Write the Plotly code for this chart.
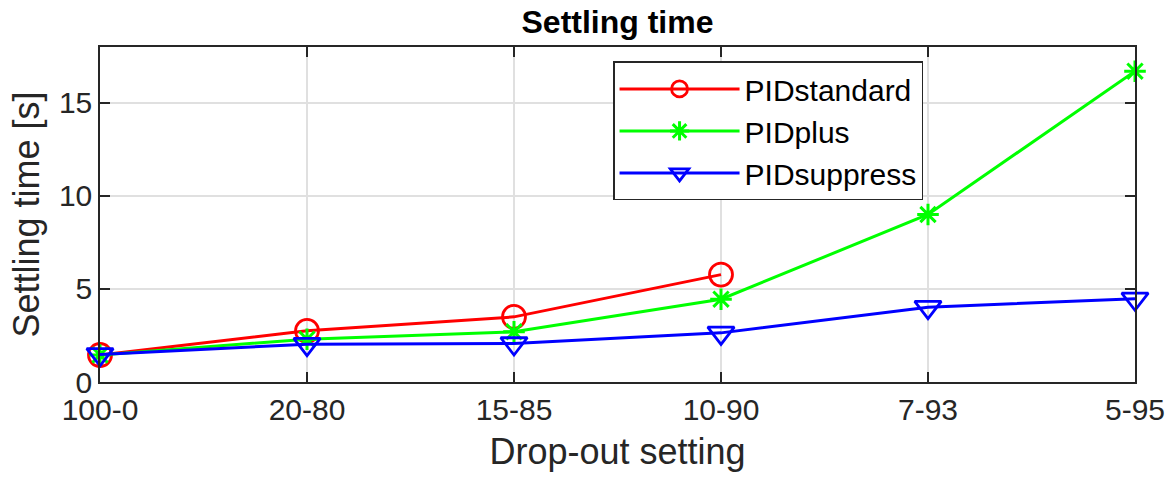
import plotly.graph_objects as go

settings = ["100-0", "20-80", "15-85", "10-90", "7-93", "5-95"]
pid_standard = [1.45, 2.75, 3.5, 5.77]
pid_plus = [1.45, 2.3, 2.7, 4.45, 9.0, 16.7]
pid_suppress = [1.48, 2.03, 2.07, 2.64, 4.02, 4.47]

FONT = "Liberation Sans, Arial, sans-serif"
AX = "#262626"

fig = go.Figure()
fig.add_trace(go.Scatter(x=settings[:len(pid_standard)], y=pid_standard, name="PIDstandard",
                         mode="lines+markers", cliponaxis=False,
                         line=dict(color="#ff0000", width=3),
                         marker=dict(symbol="circle-open", size=23, color="#ff0000",
                                     line=dict(width=2.8, color="#ff0000"))))
fig.add_trace(go.Scatter(x=settings, y=pid_plus, name="PIDplus",
                         mode="lines+markers", cliponaxis=False,
                         line=dict(color="#00ff00", width=3),
                         marker=dict(symbol="asterisk-open", size=18, color="#00ff00",
                                     line=dict(width=3, color="#00ff00"))))
fig.add_trace(go.Scatter(x=settings, y=pid_suppress, name="PIDsuppress",
                         mode="lines+markers", cliponaxis=False,
                         line=dict(color="#0000ff", width=3),
                         marker=dict(symbol="triangle-down-open", size=23, color="#0000ff",
                                     line=dict(width=2.8, color="#0000ff"))))

fig.update_layout(
    width=1168, height=482,
    margin=dict(l=100, r=33, t=47, b=100, autoexpand=False),
    paper_bgcolor="white", plot_bgcolor="white",
    font=dict(family=FONT, color=AX, size=30),
    title=dict(text="<b>Settling time</b>", x=0.5, xref="paper", xanchor="center",
               y=0.955, yref="container", yanchor="middle",
               font=dict(size=32, color="#000000")),
    showlegend=True,
    legend=dict(x=0.4957, xanchor="left", y=0.957, yanchor="top",
                bordercolor=AX, borderwidth=1.5, bgcolor="white",
                font=dict(size=30, color="#000000"),
                itemwidth=120, tracegroupgap=0),
    xaxis=dict(type="category", categoryorder="array", categoryarray=settings,
               range=[0, 5], showgrid=True, gridcolor="#e0e0e0", gridwidth=1.5,
               showline=True, linecolor=AX, linewidth=1.5, mirror="ticks",
               ticks="inside", ticklen=10, tickwidth=1.5, tickcolor=AX,
               tickfont=dict(size=30), zeroline=False, automargin=False,
               title=dict(text="Drop-out setting", font=dict(size=36), standoff=14)),
    yaxis=dict(range=[0, 18], tickvals=[0, 5, 10, 15], showgrid=True, gridcolor="#e0e0e0",
               gridwidth=1.5, showline=True, linecolor=AX, linewidth=1.5, mirror="ticks",
               ticks="inside", ticklen=10, tickwidth=1.5, tickcolor=AX,
               tickfont=dict(size=30), zeroline=False, automargin=False,
               title=dict(text="Settling time [s]", font=dict(size=36), standoff=8)),
)

fig.write_html("out.html", config={"displayModeBar": False},
               post_script="document.body.style.margin='0';document.body.style.overflow='hidden';")
